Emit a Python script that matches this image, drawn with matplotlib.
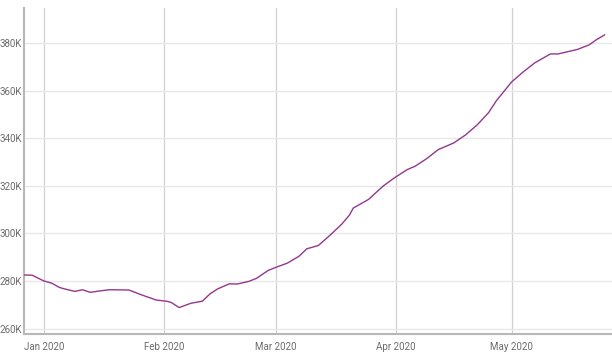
import matplotlib
matplotlib.use("Agg")
import matplotlib.pyplot as plt
import matplotlib.dates as mdates
from matplotlib.ticker import FuncFormatter
import pandas as pd

# values (thousands)
dates = ["2019-12-27", "2019-12-29", "2020-01-01", "2020-01-03", "2020-01-05",
         "2020-01-06", "2020-01-09", "2020-01-11", "2020-01-13", "2020-01-15",
         "2020-01-18", "2020-01-23", "2020-01-26", "2020-01-30", "2020-02-02",
         "2020-02-03", "2020-02-05", "2020-02-08", "2020-02-11", "2020-02-13",
         "2020-02-15", "2020-02-18", "2020-02-20", "2020-02-23", "2020-02-25",
         "2020-02-28", "2020-03-01", "2020-03-04", "2020-03-07", "2020-03-09",
         "2020-03-12", "2020-03-15", "2020-03-18", "2020-03-20", "2020-03-21",
         "2020-03-25", "2020-03-28", "2020-03-29", "2020-04-01", "2020-04-04",
         "2020-04-06", "2020-04-09", "2020-04-12", "2020-04-16", "2020-04-19",
         "2020-04-22", "2020-04-25", "2020-04-27", "2020-05-01", "2020-05-04",
         "2020-05-07", "2020-05-11", "2020-05-13", "2020-05-18", "2020-05-21",
         "2020-05-23", "2020-05-25"]
values = [282.5, 282.4, 280.0, 279.1, 277.3,
          276.8, 275.6, 276.3, 275.2, 275.7,
          276.3, 276.2, 274.3, 272.0, 271.4,
          270.9, 268.8, 270.6, 271.5, 274.6,
          276.7, 278.8, 278.7, 279.8, 281.1,
          284.4, 285.7, 287.5, 290.4, 293.5,
          294.9, 299.2, 303.8, 307.6, 310.6,
          314.3, 318.8, 320.2, 323.7, 326.8,
          328.2, 331.4, 335.2, 338.0, 341.3,
          345.5, 350.7, 355.7, 363.7, 367.9,
          371.7, 375.4, 375.4, 377.3, 379.2,
          381.5, 383.4]
y_ticks = [260, 280, 300, 320, 340, 360, 380]
x_ticks = ["2020-01-01", "2020-02-01", "2020-03-01", "2020-04-01", "2020-05-01"]

x = pd.to_datetime(dates)
y = [v * 1000 for v in values]

plt.rcParams['font.family'] = ['Roboto', 'DejaVu Sans']

fig = plt.figure(figsize=(6.12, 3.57), dpi=100)
ax = fig.add_axes([24 / 612, 23 / 357, 1 - 24 / 612, 326 / 357])

ax.plot(x, y, color='#93378f', lw=1.0, zorder=3)

ax.set_xlim(pd.Timestamp("2019-12-26 21:00"), pd.Timestamp("2020-05-26 22:00"))
ax.set_ylim(257700, 394700)

ax.set_yticks([t * 1000 for t in y_ticks])
ax.yaxis.set_major_formatter(FuncFormatter(lambda v, p: f"{int(v / 1000)}K"))
ax.set_xticks(pd.to_datetime(x_ticks))
ax.xaxis.set_major_formatter(mdates.DateFormatter("%b %Y"))

ax.grid(axis='y', color='#e8e8e8', lw=1.0)
ax.grid(axis='x', color='#d0d0d0', lw=0.9)
ax.set_axisbelow(True)

for s in ['top', 'right']:
    ax.spines[s].set_visible(False)
for s in ['left', 'bottom']:
    ax.spines[s].set_color('#b8b8b8')
    ax.spines[s].set_linewidth(1.5)

ax.tick_params(axis='both', length=0, labelsize=7, colors='#6b6b6b')
ax.tick_params(axis='y', pad=1.5)
ax.tick_params(axis='x', pad=6)

fig.savefig("out.png", dpi=100)
